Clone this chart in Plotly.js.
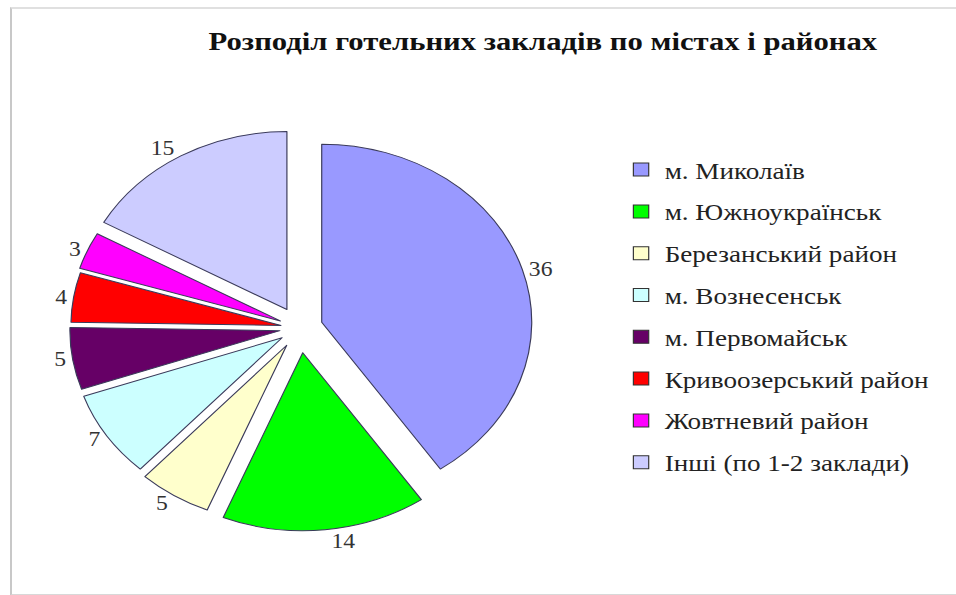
<!DOCTYPE html>
<html>
<head>
<meta charset="utf-8">
<script src="https://cdn.plot.ly/plotly-3.0.1.min.js"></script>
<style>
  html, body { margin: 0; padding: 0; background: #fff; overflow: hidden; }
  #frame { position: absolute; left: 10px; top: 7px; width: 960px; height: 585px;
           border-left: 2px solid #c8c8c8; border-top: 2px solid #e0e0e0; border-bottom: 2px solid #d8d8d8;
           pointer-events: none; z-index: 5; }
  #chart { position: absolute; left: 0; top: 0; width: 810px; height: 595px;
           transform: scaleX(1.18); transform-origin: 0 0; }
</style>
</head>
<body>
<div id="frame"></div>
<div id="chart"></div>
<script>
const categories = [
  "м. Миколаїв",
  "м. Южноукраїнськ",
  "Березанський район",
  "м. Вознесенськ",
  "м. Первомайськ",
  "Кривоозерський район",
  "Жовтневий район",
  "Інші (по 1-2 заклади)"
];
const counts = [36, 14, 5, 7, 5, 4, 3, 15];
const sliceColors = ["#9999ff", "#00ff00", "#ffffcc", "#ccffff", "#660066", "#ff0000", "#ff00ff", "#ccccff"];
const pulls = [0.11, 0.14, 0.115, 0.10, 0.095, 0.09, 0.10, 0.12];
const chartTitle = "Розподіл готельних закладів по містах і районах";

const serif = "Liberation Serif, Times New Roman, serif";

const pie = {
  type: "pie",
  values: counts,
  labels: categories,
  marker: { colors: sliceColors, line: { color: "#3a3a5a", width: 1 } },
  pull: pulls,
  sort: false,
  direction: "clockwise",
  rotation: 0,
  textinfo: "value",
  textposition: "outside",
  outsidetextfont: { family: serif, size: 20, color: "#333" },
  showlegend: false,
  hoverinfo: "label+value",
  domain: { x: [0.063, 0.564], y: [0.1076, 0.790] }
};

const legendTraces = categories.map((c, i) => ({
  type: "scatter",
  mode: "markers",
  x: [null], y: [null],
  name: c,
  legendgroup: "g" + i,
  marker: { symbol: "square", size: 13, color: sliceColors[i], line: { color: "#333", width: 1 } },
  hoverinfo: "skip"
}));

const layout = {
  width: 810, height: 595,
  margin: { l: 0, r: 0, t: 0, b: 0 },
  paper_bgcolor: "#fff",
  plot_bgcolor: "#fff",
  title: { text: "<b>" + chartTitle + "</b>", font: { family: serif, size: 26, color: "#111" },
           x: 0.568, xanchor: "center", y: 0.932, yanchor: "middle" },
  xaxis: { visible: false }, yaxis: { visible: false },
  showlegend: true,
  legend: { x: 0.646, xanchor: "left", y: 0.751, yanchor: "top",
            font: { family: serif, size: 23, color: "#222" },
            tracegroupgap: 8.9, traceorder: "grouped", bgcolor: "rgba(0,0,0,0)" }
};

Plotly.newPlot("chart", [pie].concat(legendTraces), layout, { displayModeBar: false, staticPlot: true });
</script>
</body>
</html>
